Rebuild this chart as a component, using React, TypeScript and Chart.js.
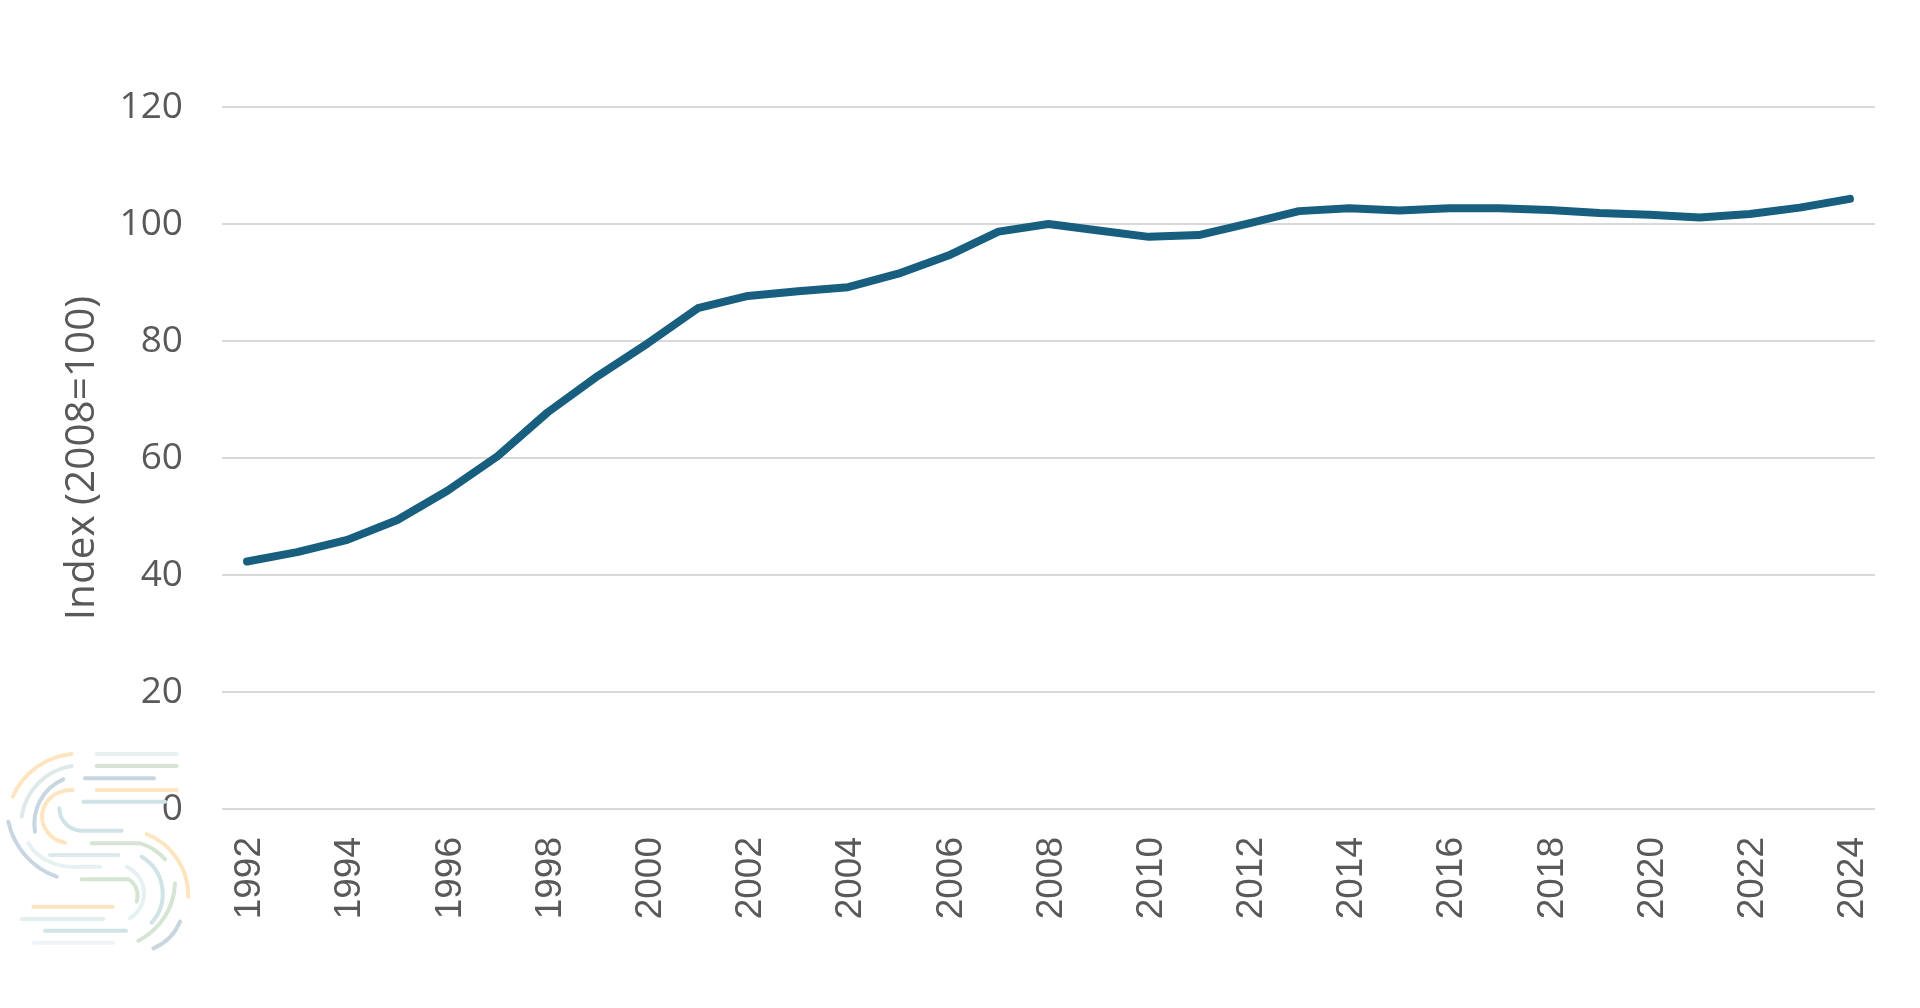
import React, { useEffect, useRef } from "react";
import { Chart, registerables } from "chart.js";

Chart.register(...registerables);

const years: string[] = [
  "1992", "1993", "1994", "1995", "1996", "1997", "1998", "1999", "2000", "2001",
  "2002", "2003", "2004", "2005", "2006", "2007", "2008", "2009", "2010", "2011",
  "2012", "2013", "2014", "2015", "2016", "2017", "2018", "2019", "2020", "2021",
  "2022", "2023", "2024",
];

const indexValues: number[] = [
  42.3, 43.9, 46.0, 49.4, 54.4, 60.3, 67.8, 74.0, 79.6, 85.6,
  87.7, 88.5, 89.2, 91.5, 94.6, 98.7, 100.0, 98.9, 97.8, 98.1,
  100.1, 102.2, 102.7, 102.3, 102.7, 102.7, 102.4, 101.9, 101.6, 101.1,
  101.7, 102.8, 104.3,
];

const yTicks: number[] = [0, 20, 40, 60, 80, 100, 120];

const axisTitle = "Index (2008=100)";

function Logo() {
  const s = { fill: "none", strokeWidth: 12, strokeLinecap: "round" as const };
  return (
    <svg
      width={300}
      height={300}
      viewBox="0 0 900 900"
      style={{ position: "absolute", left: 0, top: 700, pointerEvents: "none" }}
    >
      <path d="M290 162 L530 162" stroke="#e6f1f3" {...s} />
      <path d="M290 198 L530 198" stroke="#d6e4d4" {...s} />
      <path d="M255 235 L462 235" stroke="#c7d6e1" {...s} />
      <path d="M290 270 L530 270" stroke="#fde5bf" {...s} />
      <path d="M250 305 L495 305" stroke="#d0e3e6" {...s} />
      <path d="M215 162 A 215 215 0 0 0 38 290" stroke="#fde5bf" {...s} />
      <path d="M215 198 A 180 180 0 0 0 65 350" stroke="#dfe9ec" {...s} />
      <path d="M190 238 A 145 145 0 0 0 105 395" stroke="#c7d6e1" {...s} />
      <path d="M218 270 A 88 80 0 0 0 195 428" stroke="#fde5bf" {...s} />
      <path d="M178 325 A 70 68 0 0 0 240 392 L365 392" stroke="#d0e3e6" {...s} />
      <path d="M25 365 A 225 225 0 0 0 170 530" stroke="#c7d6e1" {...s} />
      <path d="M85 430 A 150 120 0 0 0 240 500 L300 500" stroke="#e6f1f3" {...s} />
      <path d="M150 465 L355 465" stroke="#dde9ec" {...s} />
      <path d="M275 430 L420 430 A 150 130 0 0 1 495 478" stroke="#d6e4d4" {...s} />
      <path d="M440 402 A 200 200 0 0 1 565 590" stroke="#fde5bf" {...s} />
      <path d="M425 470 A 130 130 0 0 1 455 668" stroke="#d0e3e6" {...s} />
      <path d="M380 500 A 95 90 0 0 1 390 655" stroke="#e6f1f3" {...s} />
      <path d="M245 538 L385 538 A 50 55 0 0 1 410 605" stroke="#d6e4d4" {...s} />
      <path d="M525 550 A 200 200 0 0 1 415 722" stroke="#d6e4d4" {...s} />
      <path d="M540 665 A 150 150 0 0 1 460 745" stroke="#c7d6e1" {...s} />
      <path d="M100 620 L338 620" stroke="#fde5bf" {...s} />
      <path d="M65 657 L310 657" stroke="#e3eef0" {...s} />
      <path d="M135 692 L378 692" stroke="#d0e3e6" {...s} />
      <path d="M100 728 L340 728" stroke="#eef5f6" {...s} />
    </svg>
  );
}

export default function App() {
  const canvasRef = useRef<HTMLCanvasElement | null>(null);

  useEffect(() => {
    if (!canvasRef.current) return;
    const chart = new Chart(canvasRef.current, {
      type: "line",
      data: {
        labels: years,
        datasets: [
          {
            label: axisTitle,
            data: indexValues,
            borderColor: "#175e7f",
            backgroundColor: "#175e7f",
            borderWidth: 8,
            pointRadius: 0,
            pointHoverRadius: 0,
            tension: 0,
            borderCapStyle: "round",
            borderJoinStyle: "round",
            fill: false,
          },
        ],
      },
      options: {
        responsive: false,
        animation: false,
        events: [],
        layout: { padding: { left: 0, right: 45, top: 107, bottom: 0 } },
        plugins: {
          legend: { display: false },
          tooltip: { enabled: false },
          title: { display: false },
        },
        scales: {
          x: {
            type: "category",
            offset: true,
            grid: { display: false, drawTicks: false },
            border: { display: false },
            ticks: {
              autoSkip: false,
              maxRotation: 90,
              minRotation: 90,
              padding: 28,
              labelOffset: 3,
              color: "#595959",
              font: { family: "'Liberation Sans', Arial, sans-serif", size: 37 },
              callback: (_v: any, i: number) => (i % 2 === 0 ? years[i] : ""),
            },
            afterFit: (scale: any) => {
              scale.height = 199;
              scale.paddingLeft = 0;
              scale.paddingRight = 0;
            },
          },
          y: {
            min: 0,
            max: 120,
            afterBuildTicks: (scale: any) => {
              scale.ticks = yTicks.map((v) => ({ value: v }));
            },
            grid: { color: "#d9d9d9", lineWidth: 2, drawTicks: false },
            border: { display: false },
            ticks: {
              padding: 39,
              color: "#595959",
              font: { family: "'Open Sans', sans-serif", size: 37 },
            },
            title: {
              display: true,
              text: axisTitle,
              color: "#595959",
              font: { family: "'Open Sans', sans-serif", size: 40.5 },
              padding: { top: 58, bottom: 0 },
            },
            afterFit: (scale: any) => {
              scale.width = 222;
            },
          },
        },
      },
    });
    return () => chart.destroy();
  }, []);

  return (
    <div style={{ position: "fixed", left: 0, top: 0, width: 1920, height: 1008, background: "#ffffff" }}>
      <canvas ref={canvasRef} width={1920} height={1008} style={{ width: 1920, height: 1008, display: "block" }} />
      <Logo />
    </div>
  );
}
